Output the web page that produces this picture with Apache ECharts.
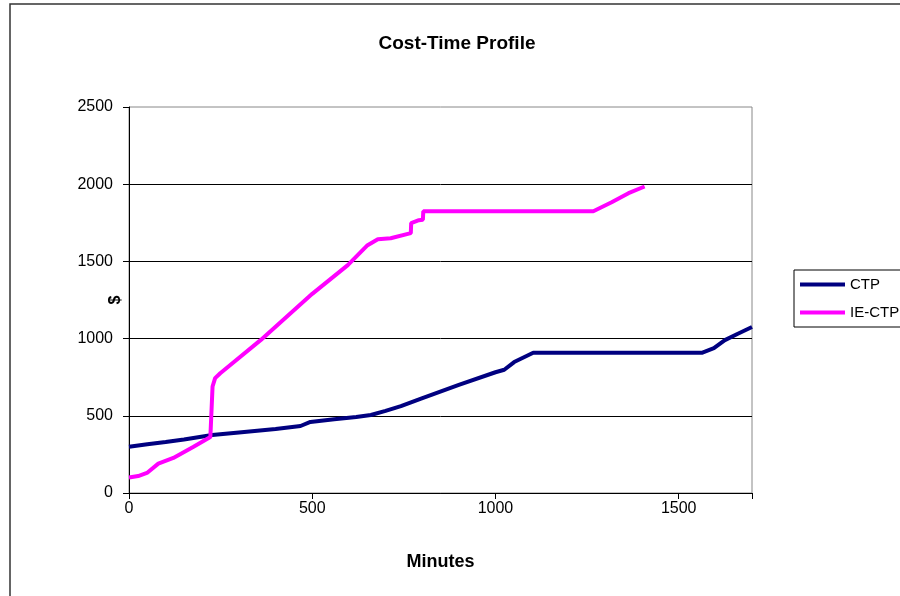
<!DOCTYPE html>
<html>
<head>
<meta charset="utf-8">
<script src="https://cdn.jsdelivr.net/npm/echarts@6/dist/echarts.min.js"></script>
<style>html,body{margin:0;padding:0;background:#fff}#c{width:900px;height:596px}</style>
</head>
<body>
<div id="c"></div>
<script>
const seriesNames = ['CTP', 'IE-CTP'];
const ctpData = [
  [0,300],[50,316],[100,330],[150,346],[227,375],[300,392],[400,415],[468,434],[495,460],
  [560,478],[620,492],[660,505],[700,532],[742,563],[797,612],[900,700],[1000,782],[1024,798],
  [1051,848],[1103,908],[1563,908],[1596,938],[1626,990],[1660,1030],[1700,1075]
];
const iectpData = [
  [0,100],[25,110],[49,130],[80,190],[121,227],[175,298],[222,362],[226,372],[228,690],[233,695],
  [235,744],[249,776],[359,990],[500,1290],[597,1476],[651,1605],[679,1644],[714,1650],[769,1683],
  [770,1748],[791,1767],[802,1770],[803,1825],[1267,1825],[1317,1883],[1363,1942],[1407,1985]
];
const xTicks = [0, 500, 1000, 1500];
const yTicks = [0, 500, 1000, 1500, 2000, 2500];

const FONT = 'Liberation Sans, Arial, sans-serif';
const chart = echarts.init(document.getElementById('c'));
chart.setOption({
  animation: false,
  backgroundColor: '#fff',
  title: {
    text: 'Cost-Time Profile', left: 452, top: 29, textAlign: 'center',
    textStyle: { fontFamily: FONT, fontSize: 19, fontWeight: 'bold', color: '#000' }
  },
  graphic: [
    { type: 'rect', shape: { x: 10, y: 4, width: 1000, height: 1000 }, style: { fill: 'none', stroke: '#333', lineWidth: 1.5 }, z: 0 },
    { type: 'text', x: 116, y: 300, rotation: Math.PI / 2, style: { text: '$', fontFamily: FONT, fontSize: 16, fontWeight: 'bold', fill: '#000', align: 'center', verticalAlign: 'middle' } }
  ],
  legend: {
    orient: 'vertical', left: 794, top: 270,
    data: seriesNames,
    icon: 'rect', itemWidth: 45, itemHeight: 4, itemGap: 13,
    padding: [7, 60, 7, 6],
    borderColor: '#000', borderWidth: 1,
    textStyle: { fontFamily: FONT, fontSize: 15, color: '#000' }
  },
  grid: {
    left: 129, right: 148, top: 107, bottom: 103,
    show: true, borderColor: '#888', borderWidth: 1, backgroundColor: '#fff'
  },
  xAxis: {
    type: 'value', min: 0, max: 1700, interval: 500,
    name: 'Minutes', nameLocation: 'middle', nameGap: 60,
    nameTextStyle: { fontFamily: FONT, fontSize: 18, fontWeight: 'bold', color: '#000' },
    axisLine: { show: true, onZero: false, lineStyle: { color: '#000', width: 1 } },
    axisTick: { show: true, inside: false, length: 6, lineStyle: { color: '#000' } },
    axisLabel: { margin: 8, fontFamily: FONT, fontSize: 16, color: '#000',
      formatter: v => xTicks.includes(v) ? String(v) : '' },
    splitLine: { show: false }
  },
  yAxis: {
    type: 'value', min: 0, max: 2500, interval: 500,
    axisLine: { show: true, onZero: false, lineStyle: { color: '#000', width: 1 } },
    axisTick: { show: true, inside: false, length: 6, lineStyle: { color: '#000' } },
    axisLabel: { margin: 16, fontFamily: FONT, fontSize: 16, color: '#000',
      formatter: v => yTicks.includes(v) ? String(v) : '' },
    splitLine: { show: true, showMaxLine: false, lineStyle: { color: '#000', width: 1 } }
  },
  series: [
    { name: seriesNames[0], type: 'line', data: ctpData, showSymbol: false, symbol: 'none',
      lineStyle: { color: '#000080', width: 4 }, itemStyle: { color: '#000080' }, z: 3 },
    { name: seriesNames[1], type: 'line', data: iectpData, showSymbol: false, symbol: 'none',
      lineStyle: { color: '#FF00FF', width: 4 }, itemStyle: { color: '#FF00FF' }, z: 4 }
  ]
});
</script>
</body>
</html>
